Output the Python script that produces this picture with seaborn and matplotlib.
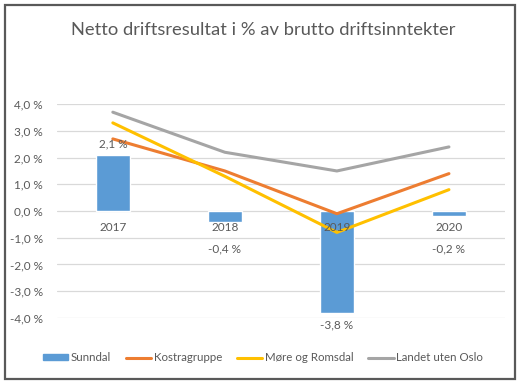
import matplotlib
matplotlib.use("Agg")
import matplotlib.pyplot as plt
import matplotlib.patches as mpatches
import matplotlib.lines as mlines
import numpy as np
import pandas as pd
import seaborn as sns

years = ["2017", "2018", "2019", "2020"]
sunndal = [2.1, -0.4, -3.8, -0.2]
kostragruppe = [2.7, 1.5, -0.1, 1.4]
more_romsdal = [3.3, 1.3, -0.8, 0.8]
landet = [3.7, 2.2, 1.5, 2.4]
yticks = [4, 3, 2, 1, 0, -1, -2, -3, -4]

sns.set_theme(style="white")
plt.rcParams['font.family'] = ['Lato', 'DejaVu Sans']
txt = "#595959"

fig = plt.figure(figsize=(5.26, 3.83), dpi=100)
ax = fig.add_axes([0.108, 0.170, 0.852, 0.558])

pos = np.arange(len(years))
bar_df = pd.DataFrame({"pos": pos, "val": sunndal})
sns.barplot(data=bar_df, x="pos", y="val", color="#5B9BD5", width=0.3,
            saturation=1, ax=ax, zorder=2)

series = {"Kostragruppe": kostragruppe, "Møre og Romsdal": more_romsdal,
          "Landet uten Oslo": landet}
colors = {"Kostragruppe": "#ED7D31", "Møre og Romsdal": "#FFC000",
          "Landet uten Oslo": "#A5A5A5"}
long = pd.concat([pd.DataFrame({"pos": pos, "val": v, "series": k})
                  for k, v in series.items()])
sns.lineplot(data=long, x="pos", y="val", hue="series", palette=colors,
             linewidth=2.2, ax=ax, legend=False, zorder=3)

ax.set_ylim(-4, 4)
ax.set_xlim(-0.5, 3.5)
ax.set_yticks(yticks)
ax.set_yticklabels([f"{v:.1f} %".replace(".", ",") for v in yticks],
                   color=txt, fontsize=8.5)
ax.set_xticks([])
ax.set_xlabel("")
ax.set_ylabel("")
ax.tick_params(axis="y", length=0, pad=10)
ax.grid(axis="y", color="#D9D9D9", linewidth=0.9, zorder=0)
ax.set_axisbelow(True)
for s in ax.spines.values():
    s.set_visible(False)

for i, y in enumerate(years):
    ax.annotate(y, (i, 0), xytext=(0, -8), textcoords="offset points",
                ha="center", va="top", color=txt, fontsize=8.5, zorder=5)

for i, v in enumerate(sunndal):
    lab = f"{v:.1f} %".replace(".", ",")
    if v >= 0:
        ax.annotate(lab, (i, v), xytext=(0, 4), textcoords="offset points",
                    ha="center", va="bottom", color=txt, fontsize=8.5, zorder=5)
    elif v > -1:
        ax.annotate(lab, (i, 0), xytext=(0, -27.5), textcoords="offset points",
                    ha="center", va="center", color=txt, fontsize=8.5, zorder=5)
    else:
        ax.annotate(lab, (i, v), xytext=(0, -5), textcoords="offset points",
                    ha="center", va="top", color=txt, fontsize=8.5,
                    annotation_clip=False, zorder=5)

fig.text(0.5, 0.922, "Netto driftsresultat i % av brutto driftsinntekter",
         ha="center", va="center", fontsize=13.2, color=txt)

handles = [mpatches.Patch(color="#5B9BD5", label="Sunndal")]
for k in series:
    handles.append(mlines.Line2D([], [], color=colors[k], linewidth=2.2, label=k))
fig.legend(handles=handles, loc="center", bbox_to_anchor=(0.5, 0.066), ncol=4,
           frameon=False, fontsize=8.3, labelcolor=txt, handlelength=2.2,
           handletextpad=0.2, columnspacing=1.3, handleheight=0.5)

fig.patches.append(mpatches.Rectangle((0.010, 0.010), 0.970, 0.976,
                   transform=fig.transFigure, fill=False,
                   edgecolor="#595959", linewidth=1.6))

fig.savefig("out.png", dpi=100)
